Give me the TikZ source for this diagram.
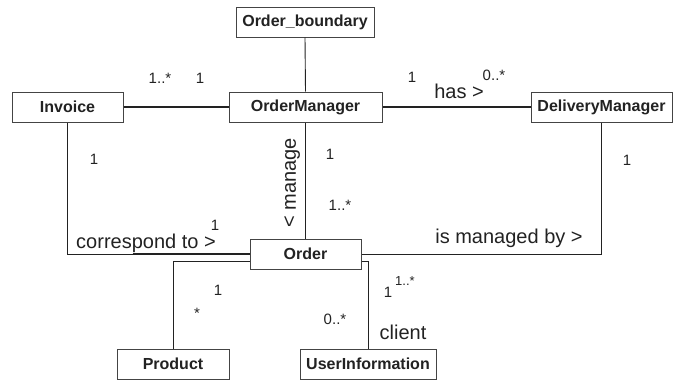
\documentclass[tikz,border=0pt]{standalone}
\usepackage{fontspec}
\setmainfont{Liberation Sans}
\usetikzlibrary{calc}
\definecolor{ink}{HTML}{222222}
\definecolor{boxline}{HTML}{444444}
\tikzset{
  cls/.style={draw=boxline, line width=1pt, fill=white, minimum height=30pt, inner sep=0pt,
    font=\fontsize{16}{16}\selectfont\bfseries, text=ink},
  thin/.style={draw=ink, line width=0.9pt},
  strong/.style={draw=ink, line width=2pt},
  mult/.style={font=\fontsize{15}{15}\selectfont, text=ink, inner sep=0pt},
  multsm/.style={font=\fontsize{13}{13}\selectfont, text=ink, inner sep=0pt},
  role/.style={font=\fontsize{20}{20}\selectfont, text=ink, inner sep=0pt},
}
\begin{document}
\begin{tikzpicture}[x=1pt,y=-1pt]
\useasboundingbox (0,0) rectangle (677,380);
\node[cls, minimum width=138pt] (ob) at (305,22) {Order\_boundary};
\node[cls, minimum width=111pt] (inv) at (67.5,107) {Invoice};
\node[cls, minimum width=153pt] (om) at (305.5,107) {OrderManager};
\node[cls, minimum width=141pt] (dm) at (601.5,107) {DeliveryManager};
\node[cls, minimum width=111pt] (ord) at (305.5,254) {Order};
\node[cls, minimum width=112pt] (prod) at (173,364) {Product};
\node[cls, minimum width=136pt] (ui) at (368,364) {UserInformation};

\coordinate (ordpl) at ($(ord.west)+(0,7)$);
\coordinate (ordpr) at ($(ord.east)+(0,7)$);
\coordinate (thk) at ($(ord.west)+(-117,0)$);

\draw[thin] (ob.south) -- (om.north);
\draw[strong] (inv.east) -- (om.west);
\draw[strong] (om.east) -- (dm.west);
\draw[thin] (om.south) -- (ord.north);
\draw[thin] (inv.south) |- (ord.west);
\draw[strong] (thk) -- (ord.west);
\draw[thin] (dm.south) |- (ord.east);
\draw[thin] (ordpl) -| (prod.north);
\draw[thin] (ordpr) -| (ui.north);

\node[mult] (m1) at (160,78) {1..*};
\node[mult] (m2) at (200,78) {1};
\node[mult] (m3) at (412,77) {1};
\node[role] (has) at (459,91) {has >};
\node[mult] (m4) at (494,75) {0..*};
\node[mult] (m5) at (94,159) {1};
\node[role, rotate=90] (man) at (292,183) {< manage};
\node[mult] (m6) at (330,154) {1};
\node[mult] (m7) at (340,205) {1..*};
\node[mult] (m8) at (215,225) {1};
\node[role] (corr) at (146,243) {correspond to >};
\node[mult] (m9) at (218,290) {1};
\node[mult] (m10) at (197,313) {*};
\node[mult] (m11) at (335,319) {0..*};
\node[mult] (m12) at (388,292) {1};
\node[multsm] (m13) at (405,281) {1..*};
\node[role] (cli) at (403,332) {client};
\node[role] (imb) at (509,238) {is managed by >};
\node[mult] (m14) at (627,160) {1};
\end{tikzpicture}
\end{document}
